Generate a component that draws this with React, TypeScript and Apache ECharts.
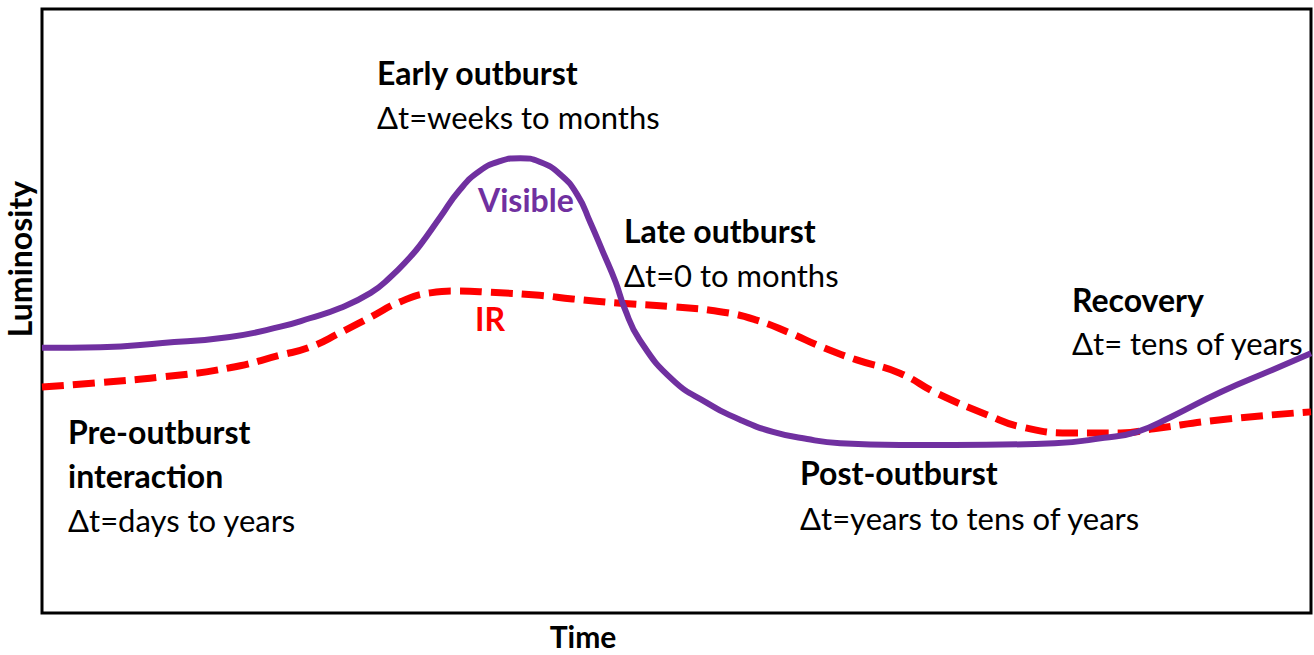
import React, { useEffect, useRef } from "react";
import * as echarts from "echarts";

// Schematic light curves (arbitrary units: time 0..100, luminosity 0..100)
const visibleTime = [0, 4.6, 9.5, 14.8, 18.8, 21.1, 23.5, 25.9, 27.4, 29.0, 29.8, 31.4, 32.9, 34.5, 36.1, 37.7, 39.2, 40.8, 42.2, 43.2, 44.2, 45.2, 45.9, 47.1, 49.7, 52.4, 55.0, 57.6, 60.3, 62.9, 67.6, 71.9, 79.8, 83.7, 86.3, 89.0, 92.9, 96.9, 100];
const visibleLum = [43.9, 44.0, 44.7, 45.7, 47.4, 48.8, 50.5, 53.0, 55.5, 58.9, 60.9, 65.6, 70.0, 73.2, 74.8, 75.3, 74.7, 72.7, 69.2, 64.7, 59.8, 54.8, 50.5, 45.2, 38.6, 34.8, 32.0, 30.0, 28.8, 28.1, 27.8, 27.8, 28.1, 29.0, 30.0, 32.5, 36.6, 40.2, 43.0];

const irTime = [0, 4.3, 9.5, 14.8, 18.8, 21.1, 23.5, 25.9, 28.2, 30.6, 32.7, 35.3, 39.2, 41.8, 45.6, 49.7, 53.7, 56.3, 58.9, 61.5, 64.2, 67.6, 70.5, 74.5, 77.2, 81.1, 85.0, 87.6, 92.9, 100];
const irLum = [37.4, 38.1, 39.1, 40.6, 42.7, 44.0, 46.4, 49.0, 51.5, 53.0, 53.3, 53.1, 52.6, 52.0, 51.3, 50.7, 49.8, 48.5, 46.4, 44.0, 41.9, 39.7, 36.4, 32.8, 30.8, 29.8, 29.8, 30.5, 32.0, 33.3];

const seriesNames = ["Visible", "IR"];
const axisNames = ["Time", "Luminosity"];

const phaseNames = ["Early outburst", "Late outburst", "Recovery", "Post-outburst", "Pre-outburst", "interaction"];
const phaseDurations = ["Δt=weeks to months", "Δt=0 to months", "Δt= tens of years", "Δt=years to tens of years", "Δt=days to years"];

const PURPLE = "#7030A0";
const RED = "#FF0000";
const FONT = "Lato, 'Open Sans', sans-serif";
const BOLD_SIZE = 32;
const REG_SIZE = 31;

export default function App() {
  const ref = useRef<HTMLDivElement>(null);

  useEffect(() => {
    document.body.style.margin = "0";
    if (!ref.current) return;
    const chart = echarts.init(ref.current, null, { renderer: "svg" });

    const txt = (text: string, x: number, y: number, bold: boolean, fill = "#000") => ({
      type: "text",
      x,
      y,
      style: {
        text,
        fill,
        font: `${bold ? "bold " : ""}${bold ? BOLD_SIZE : REG_SIZE}px ${FONT}`,
        align: "left",
        verticalAlign: "middle",
      },
    });

    chart.setOption({
      animation: false,
      backgroundColor: "#fff",
      grid: {
        left: 42,
        right: 3,
        top: 9,
        bottom: 42,
        show: true,
        borderColor: "#000",
        borderWidth: 3,
      },
      xAxis: {
        type: "value",
        min: 0,
        max: 100,
        axisLine: { show: false },
        axisTick: { show: false },
        axisLabel: { show: false },
        splitLine: { show: false },
      },
      yAxis: {
        type: "value",
        min: 0,
        max: 100,
        axisLine: { show: false },
        axisTick: { show: false },
        axisLabel: { show: false },
        splitLine: { show: false },
      },
      series: [
        {
          name: seriesNames[1],
          type: "line",
          data: irTime.map((t, i) => [t, irLum[i]]),
          showSymbol: false,
          symbol: "none",
          smooth: 0.5,
          lineStyle: { color: RED, width: 7, type: [22, 9] },
          z: 2,
        },
        {
          name: seriesNames[0],
          type: "line",
          data: visibleTime.map((t, i) => [t, visibleLum[i]]),
          showSymbol: false,
          symbol: "none",
          smooth: 0.5,
          lineStyle: { color: PURPLE, width: 6 },
          z: 3,
        },
      ],
      graphic: [
        txt(phaseNames[0], 377, 72, true),
        txt(phaseDurations[0], 377, 117, false),
        txt(seriesNames[0], 478, 199, true, PURPLE),
        txt(seriesNames[1], 475, 318, true, RED),
        txt(phaseNames[1], 624, 230, true),
        txt(phaseDurations[1], 624, 275, false),
        txt(phaseNames[2], 1072, 299, true),
        txt(phaseDurations[2], 1072, 343, false),
        txt(phaseNames[3], 800, 472, true),
        txt(phaseDurations[3], 800, 518, false),
        txt(phaseNames[4], 68, 431, true),
        txt(phaseNames[5], 68, 475, true),
        txt(phaseDurations[4], 68, 520, false),
        {
          type: "text",
          x: 583,
          y: 636,
          style: {
            text: axisNames[0],
            fill: "#000",
            font: `bold 30px ${FONT}`,
            align: "center",
            verticalAlign: "middle",
          },
        },
        {
          type: "text",
          x: 19,
          y: 259,
          rotation: Math.PI / 2,
          style: {
            text: axisNames[1],
            fill: "#000",
            font: `bold 32px ${FONT}`,
            align: "center",
            verticalAlign: "middle",
          },
        },
      ],
    });

    return () => chart.dispose();
  }, []);

  return <div ref={ref} style={{ width: 1314, height: 655 }} />;
}
